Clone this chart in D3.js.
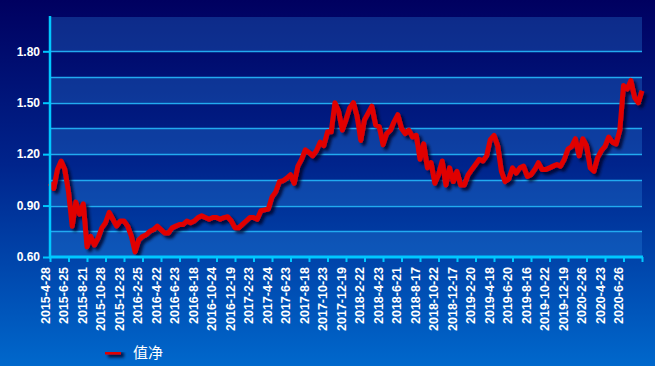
<!DOCTYPE html>
<html>
<head>
<meta charset="utf-8">
<script src="https://cdn.jsdelivr.net/npm/d3@7/dist/d3.min.js"></script>
<style>
  html, body { margin: 0; padding: 0; background: #000a66; }
  svg { display: block; }
</style>
</head>
<body>
<div id="chart"></div>
<script>
// tick labels under the x axis (one every ~2 months)
const tickLabels = [
  "2015-4-28", "2015-6-25", "2015-8-21", "2015-10-28", "2015-12-23",
  "2016-2-25", "2016-4-22", "2016-6-23", "2016-8-18", "2016-10-24",
  "2016-12-19", "2017-2-23", "2017-4-24", "2017-6-23", "2017-8-18",
  "2017-10-23", "2017-12-19", "2018-2-22", "2018-4-23", "2018-6-21",
  "2018-8-17", "2018-10-22", "2018-12-17", "2019-2-20", "2019-4-18",
  "2019-6-20", "2019-8-16", "2019-10-22", "2019-12-19", "2020-2-26",
  "2020-4-23", "2020-6-26"
];

// net value, 5 readings per tick interval
const navValues = [
  1.03, 1.00, 1.11, 1.16, 1.11, 0.98, 0.78, 0.92, 0.85, 0.91,
  0.66, 0.72, 0.67, 0.71, 0.77, 0.80, 0.86, 0.82, 0.78, 0.81,
  0.81, 0.78, 0.72, 0.63, 0.70, 0.72, 0.73, 0.75, 0.76, 0.78,
  0.76, 0.74, 0.74, 0.77, 0.78, 0.79, 0.79, 0.81, 0.80, 0.81,
  0.83, 0.84, 0.83, 0.82, 0.83, 0.83, 0.82, 0.83, 0.835, 0.81,
  0.77, 0.77, 0.79, 0.81, 0.83, 0.83, 0.82, 0.87, 0.875, 0.88,
  0.95, 0.98, 1.04, 1.045, 1.06, 1.08, 1.03, 1.13, 1.17, 1.225,
  1.21, 1.19, 1.22, 1.27, 1.25, 1.33, 1.33, 1.50, 1.45, 1.34,
  1.40, 1.47, 1.50, 1.42, 1.28, 1.40, 1.44, 1.48, 1.37, 1.36,
  1.255, 1.32, 1.34, 1.39, 1.43, 1.35, 1.32, 1.34, 1.30, 1.31,
  1.17, 1.26, 1.12, 1.15, 1.03, 1.08, 1.16, 1.02, 1.12, 1.04,
  1.10, 1.02, 1.02, 1.08, 1.11, 1.14, 1.17, 1.16, 1.19, 1.285,
  1.31, 1.25, 1.10, 1.04, 1.055, 1.12, 1.09, 1.12, 1.13, 1.07,
  1.08, 1.11, 1.15, 1.11, 1.11, 1.12, 1.13, 1.14, 1.13, 1.17,
  1.23, 1.245, 1.29, 1.19, 1.29, 1.25, 1.12, 1.10, 1.18, 1.22,
  1.245, 1.30, 1.27, 1.26, 1.34, 1.60, 1.58, 1.63, 1.53, 1.50,
  1.57
];

const yLabelTicks = [0.6, 0.9, 1.2, 1.5, 1.8];
const bandEdges = [0.6, 0.75, 0.9, 1.05, 1.2, 1.35, 1.5, 1.65, 1.8, 2.0];
const legendName = "值净";

const W = 655, H = 366;
const margin = { top: 17, right: 13, bottom: 109, left: 50 };

const svg = d3.select("#chart").append("svg")
    .attr("width", W)
    .attr("height", H);

const defs = svg.append("defs");

const bg = defs.append("linearGradient")
    .attr("id", "bg")
    .attr("x1", 0).attr("y1", 0).attr("x2", 0).attr("y2", 1);
bg.append("stop").attr("offset", "0%").attr("stop-color", "#000060");
bg.append("stop").attr("offset", "45%").attr("stop-color", "#00248c");
bg.append("stop").attr("offset", "100%").attr("stop-color", "#0068cc");

// drop shadow in user space so flat shapes (legend line) keep it too
const shadow = defs.append("filter")
    .attr("id", "shadow")
    .attr("filterUnits", "userSpaceOnUse")
    .attr("x", 0).attr("y", 0)
    .attr("width", W).attr("height", H);
shadow.append("feDropShadow")
    .attr("dx", 3).attr("dy", 3)
    .attr("stdDeviation", 1.6)
    .attr("flood-color", "#000020")
    .attr("flood-opacity", 0.8);

svg.append("rect")
    .attr("width", W).attr("height", H)
    .attr("fill", "url(#bg)");

const x = d3.scaleLinear()
    .domain([0, tickLabels.length])
    .range([margin.left, W - margin.right]);

const y = d3.scaleLinear()
    .domain([0.6, 2.0])
    .range([H - margin.bottom, margin.top]);

// alternating bands
const bands = d3.pairs(bandEdges);
svg.append("g").selectAll("rect")
    .data(bands)
    .join("rect")
    .attr("x", x(0))
    .attr("width", x(tickLabels.length) - x(0))
    .attr("y", d => y(d[1]))
    .attr("height", d => y(d[0]) - y(d[1]))
    .attr("fill", "#2a88e0")
    .attr("fill-opacity", (d, i) => i % 2 === 0 ? 0.3 : 0);

// grid lines
svg.append("g").selectAll("line")
    .data(bandEdges.slice(1, -1))
    .join("line")
    .attr("x1", x(0))
    .attr("x2", x(tickLabels.length))
    .attr("y1", d => Math.round(y(d)) + 0.5)
    .attr("y2", d => Math.round(y(d)) + 0.5)
    .attr("stroke", "#22aaf0")
    .attr("stroke-width", 1.5);

// net value line
const line = d3.line()
    .x((d, i) => x(i * tickLabels.length / (navValues.length - 1)))
    .y(d => y(d));

svg.append("path")
    .datum(navValues)
    .attr("d", line)
    .attr("fill", "none")
    .attr("stroke", "#e00000")
    .attr("stroke-width", 5)
    .attr("stroke-linejoin", "round")
    .attr("filter", "url(#shadow)");

// y axis
const yAxis = svg.append("g")
    .attr("transform", `translate(${margin.left},0)`)
    .call(d3.axisLeft(y).tickValues(yLabelTicks).tickFormat(d3.format(".2f")).tickSize(7).tickSizeOuter(0));
yAxis.select(".domain")
    .attr("d", `M0,${margin.top - 1}V${H - margin.bottom + 1}`)
    .attr("stroke", "#00c8ff").attr("stroke-width", 2.5);
yAxis.selectAll(".tick line").attr("stroke", "#00c8ff").attr("stroke-width", 2);
yAxis.selectAll(".tick text")
    .attr("x", -10)
    .attr("fill", "#ffffff")
    .style("font", "bold 12px 'Liberation Sans', Arial, sans-serif");

// x axis
const xAxis = svg.append("g")
    .attr("transform", `translate(0,${H - margin.bottom})`)
    .call(d3.axisBottom(x)
        .tickValues(d3.range(tickLabels.length + 1))
        .tickFormat(i => tickLabels[i] || "")
        .tickSize(5).tickSizeOuter(0));
xAxis.select(".domain")
    .attr("d", `M${margin.left - 1},0H${W - margin.right + 1}`)
    .attr("stroke", "#00c8ff").attr("stroke-width", 3);
xAxis.selectAll(".tick line").attr("stroke", "#00c8ff").attr("stroke-width", 2);
xAxis.selectAll(".tick text")
    .attr("transform", "rotate(-90)")
    .attr("text-anchor", "end")
    .attr("x", -10)
    .attr("y", -1)
    .attr("dy", 0)
    .attr("fill", "#ffffff")
    .style("font", "bold 12.5px 'Liberation Sans', Arial, sans-serif");

// legend
const legend = svg.append("g").attr("transform", "translate(105,352)");
legend.append("line")
    .attr("x1", 0).attr("x2", 16)
    .attr("y1", 0).attr("y2", 0)
    .attr("stroke", "#e00000")
    .attr("stroke-width", 5)
    .attr("filter", "url(#shadow)");
legend.append("text")
    .attr("x", 28)
    .attr("y", 6)
    .attr("fill", "#ffffff")
    .style("font", "15px 'Noto Sans CJK SC', sans-serif")
    .text(legendName);
</script>
</body>
</html>
